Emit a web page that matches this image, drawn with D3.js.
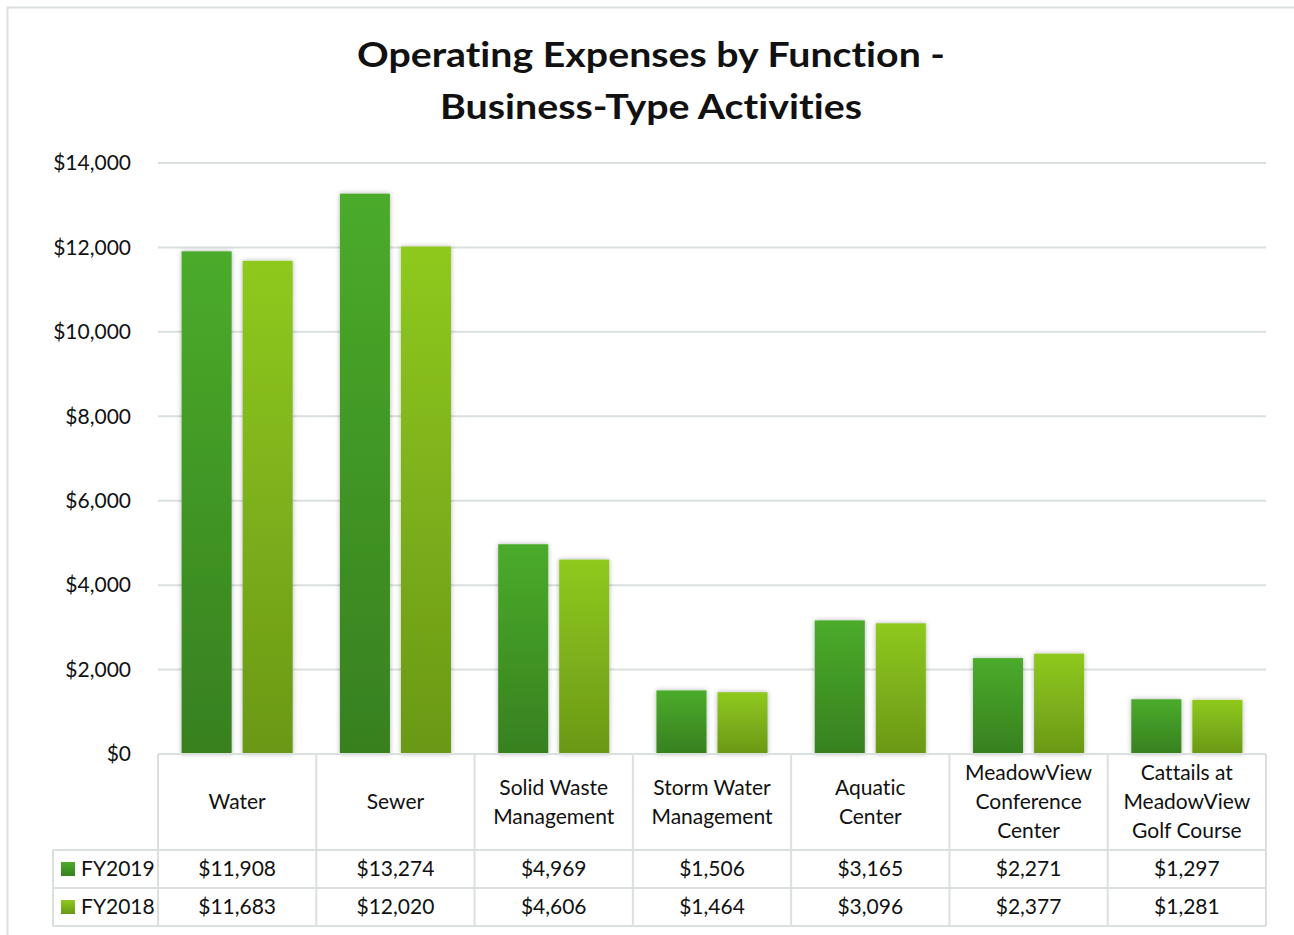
<!DOCTYPE html>
<html>
<head>
<meta charset="utf-8">
<script src="https://cdn.jsdelivr.net/npm/d3@7"></script>
<style>
  body { margin: 0; background: #fff; }
  text, tspan { font-family: Lato, "Open Sans", sans-serif; fill: #111;
         font-variant-ligatures: none;
         font-feature-settings: "liga" 0, "clig" 0, "dlig" 0, "calt" 0; }
</style>
</head>
<body>
<script>
// data
var categories = ["Water", "Sewer", "Solid Waste Management", "Storm Water Management",
  "Aquatic Center", "MeadowView Conference Center", "Cattails at MeadowView Golf Course"];
var categoryLines = [["Water"], ["Sewer"], ["Solid Waste", "Management"], ["Storm Water", "Management"],
  ["Aquatic", "Center"], ["MeadowView", "Conference", "Center"], ["Cattails at", "MeadowView", "Golf Course"]];
var seriesNames = ["FY2019", "FY2018"];
var fy2019 = [11908, 13274, 4969, 1506, 3165, 2271, 1297];
var fy2018 = [11683, 12020, 4606, 1464, 3096, 2377, 1281];
var yTicks = [0, 2000, 4000, 6000, 8000, 10000, 12000, 14000];

var seriesValues = {FY2019: fy2019, FY2018: fy2018};
var gradColors = {FY2019: ["#4bab2b", "#37801f"], FY2018: ["#8fc91f", "#6a9817"]};
var gridColor = "#d9e0de";

var W = 1294, H = 935;
var plot = {left: 158, right: 1266, top: 163, bottom: 754};
var rowH = [96, 38, 38];
var legendLeft = 53;

var svg = d3.select("body").append("svg")
  .attr("width", W)
  .attr("height", H);

var defs = svg.append("defs");
seriesNames.forEach(function (s) {
  var g = defs.append("linearGradient").attr("id", "grad" + s)
    .attr("x1", 0).attr("y1", 0).attr("x2", 0).attr("y2", 1);
  g.append("stop").attr("offset", "0%").attr("stop-color", gradColors[s][0]);
  g.append("stop").attr("offset", "100%").attr("stop-color", gradColors[s][1]);
});
var sh = defs.append("filter").attr("id", "shadow")
  .attr("x", "-20%").attr("y", "-10%").attr("width", "140%").attr("height", "120%");
sh.append("feDropShadow").attr("dx", 0).attr("dy", 0).attr("stdDeviation", 2.5)
  .attr("flood-color", "#000").attr("flood-opacity", 0.3);

// outer border
svg.append("rect")
  .attr("x", 7.5).attr("y", 7.5).attr("width", W + 20).attr("height", H + 20)
  .attr("fill", "none").attr("stroke", gridColor).attr("stroke-width", 2);

// title (small letter-spacing keeps the "ti" ligature off)
var title = svg.append("text")
  .attr("x", 651).attr("text-anchor", "middle")
  .style("font-weight", "bold").style("font-size", "34px").style("letter-spacing", "0.01px");
title.append("tspan").attr("x", 651).attr("y", 67).text("Operating Expenses by Function -")
  .attr("textLength", 588).attr("lengthAdjust", "spacingAndGlyphs");
title.append("tspan").attr("x", 651).attr("y", 119).text("Business-Type Activities")
  .attr("textLength", 422).attr("lengthAdjust", "spacingAndGlyphs");

// scales
var x0 = d3.scaleBand().domain(categories).range([plot.left, plot.right]).padding(0);
var x1 = d3.scaleBand().domain(seriesNames)
  .range([23.6, x0.bandwidth() - 23.6]).paddingInner(0.18);
var y = d3.scaleLinear().domain([0, 14000]).range([plot.bottom, plot.top]);

// gridlines
svg.append("g")
  .selectAll("line").data(yTicks.slice(1)).join("line")
  .attr("x1", plot.left).attr("x2", plot.right)
  .attr("y1", function (d) { return y(d); }).attr("y2", function (d) { return y(d); })
  .attr("stroke", gridColor).attr("stroke-width", 2);

// y axis
var yAxis = svg.append("g")
  .attr("transform", "translate(131,0)")
  .call(d3.axisLeft(y).tickValues(yTicks).tickSize(0).tickPadding(0)
    .tickFormat(function (d) { return "$" + d3.format(",")(d); }));
yAxis.select(".domain").remove();
yAxis.selectAll("text").style("font-size", "21px").style("font-family", "Lato, sans-serif")
  .attr("fill", "#111");

// bars
var groups = svg.append("g").selectAll("g").data(categories).join("g")
  .attr("transform", function (d) { return "translate(" + x0(d) + ",0)"; });
groups.selectAll("rect")
  .data(function (d, i) {
    return seriesNames.map(function (s) { return {s: s, v: seriesValues[s][i]}; });
  })
  .join("rect")
  .attr("x", function (d) { return x1(d.s); })
  .attr("width", x1.bandwidth())
  .attr("y", function (d) { return y(d.v); })
  .attr("height", function (d) { return y(0) - y(d.v); })
  .attr("fill", function (d) { return "url(#grad" + d.s + ")"; })
  .attr("filter", "url(#shadow)");

// data table
var tbl = svg.append("g");
var r0 = plot.bottom, r1 = r0 + rowH[0], r2 = r1 + rowH[1], r3 = r2 + rowH[2];
var hLines = [
  [plot.left, plot.right, r0],
  [legendLeft, plot.right, r1],
  [legendLeft, plot.right, r2],
  [legendLeft, plot.right, r3]
];
tbl.selectAll("line.h").data(hLines).join("line").attr("class", "h")
  .attr("x1", function (d) { return d[0]; }).attr("x2", function (d) { return d[1]; })
  .attr("y1", function (d) { return d[2]; }).attr("y2", function (d) { return d[2]; })
  .attr("stroke", gridColor).attr("stroke-width", 2);
var vx = categories.map(function (c) { return x0(c); }).concat([plot.right]);
tbl.selectAll("line.v").data(vx).join("line").attr("class", "v")
  .attr("x1", function (d) { return d; }).attr("x2", function (d) { return d; })
  .attr("y1", r0).attr("y2", r3)
  .attr("stroke", gridColor).attr("stroke-width", 2);
tbl.append("line").attr("x1", legendLeft).attr("x2", legendLeft).attr("y1", r1).attr("y2", r3)
  .attr("stroke", gridColor).attr("stroke-width", 2);

// header labels
var lineH = 29;
categories.forEach(function (c, i) {
  var lines = categoryLines[i];
  var cy = (r0 + r1) / 2 - (lines.length - 1) * lineH / 2;
  var t = tbl.append("text").attr("text-anchor", "middle").style("font-size", "21px");
  lines.forEach(function (l, k) {
    t.append("tspan").attr("x", x0(c) + x0.bandwidth() / 2)
      .attr("y", cy + k * lineH).attr("dy", "0.35em").text(l);
  });
});

// value rows
seriesNames.forEach(function (s, j) {
  var cy = (j === 0 ? (r1 + r2) / 2 : (r2 + r3) / 2);
  tbl.append("rect").attr("x", 61).attr("y", cy - 7).attr("width", 14).attr("height", 14)
    .attr("fill", "url(#grad" + s + ")");
  tbl.append("text").attr("x", 81).attr("y", cy).attr("dy", "0.35em")
    .style("font-size", "21px").text(s);
  categories.forEach(function (c, i) {
    tbl.append("text").attr("x", x0(c) + x0.bandwidth() / 2).attr("y", cy).attr("dy", "0.35em")
      .attr("text-anchor", "middle").style("font-size", "21px")
      .text("$" + d3.format(",")(seriesValues[s][i]));
  });
});
</script>
</body>
</html>
